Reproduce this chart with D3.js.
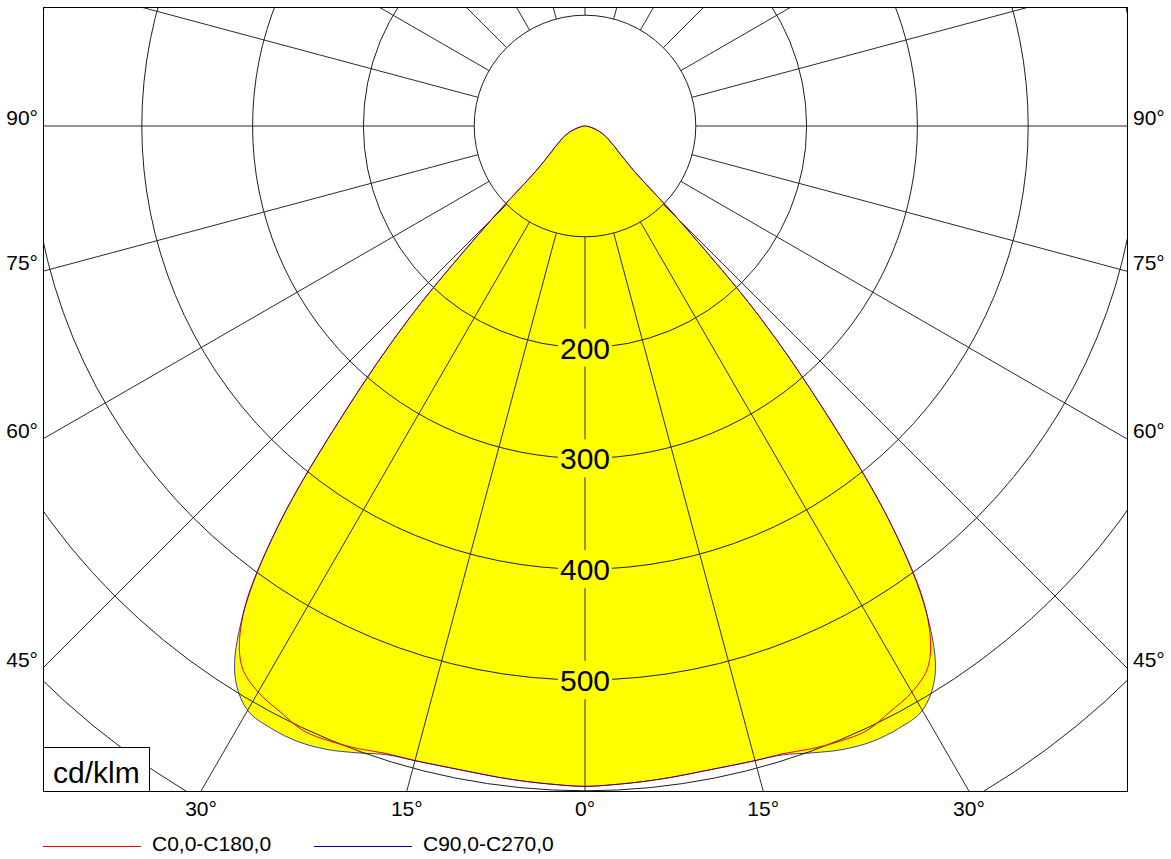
<!DOCTYPE html>
<html>
<head>
<meta charset="utf-8">
<script src="https://cdn.jsdelivr.net/npm/d3@7"></script>
<style>
  body { margin: 0; background: #fff; }
  text { font-family: "Liberation Sans", Arial, sans-serif; fill: #000; }
</style>
</head>
<body>
<svg id="graph" width="1171" height="859"></svg>
<script>
    // gamma angles (deg from nadir) and luminous intensities in cd/klm
    var gammas = [0, 2.5, 5, 7.5, 10, 12.5, 15, 17.5, 20, 22.5, 25, 27.5, 30, 32.5, 35, 37.5, 40, 42.5, 45,
                  47.5, 50, 52.5, 55, 57.5, 60, 62.5, 65, 67.5, 70, 72.5, 75, 77.5, 80, 82.5, 85, 87.5, 90];
    var c0c180 = [596, 595, 594, 593, 592, 592, 593, 594, 598, 601, 602, 596, 590, 577, 538, 455, 338, 232, 119,
                  60, 46, 38, 33, 28, 25, 22, 19, 16, 13, 10, 7.5, 5.5, 4, 2.5, 1.5, 0.5, 0];
    var c90c270 = [596, 595, 594, 593, 592, 592, 593, 595, 602, 609, 613, 613, 609, 588, 538, 455, 338, 232, 119,
                   60, 46, 38, 33, 28, 25, 22, 19, 16, 13, 10, 7.5, 5.5, 4, 2.5, 1.5, 0.5, 0];

    var rings = [100, 200, 300, 400, 500, 600, 700];
    var ringLabels = [200, 300, 400, 500];
    var spokes = [0, 15, 30, 45, 60, 75, 90, 105, 120, 135, 150, 165, 180, 195, 210, 225, 240, 255, 270, 285, 300, 315, 330, 345];
    var sideTicks = [90, 75, 60, 45];
    var bottomTicks = [-30, -15, 0, 15, 30];
    var legendNames = ["C0,0-C180,0", "C90,0-C270,0"];
    var legendColors = ["#ff0000", "#0000a0"];

    var frameL = 43, frameT = 7, frameR = 1127, frameB = 791;
    var cx = 585, cy = 126;
    var rad = Math.PI / 180;

    var r = d3.scaleLinear().domain([0, 700]).range([0, 775.6]);

    var svg = d3.select("#graph");

    svg.append("defs").append("clipPath").attr("id", "frame")
        .append("rect")
        .attr("x", frameL).attr("y", frameT)
        .attr("width", frameR - frameL).attr("height", frameB - frameT);

    var plot = svg.append("g").attr("clip-path", "url(#frame)");
    var g = plot.append("g").attr("transform", "translate(" + cx + "," + cy + ")");

    // both halves of a C-plane pair: left side from 90 down to 0, right side back up to 90
    function planePoints(values) {
        var pts = [];
        for (var i = gammas.length - 1; i >= 0; i--) pts.push({a: Math.PI + gammas[i] * rad, v: values[i]});
        for (var j = 1; j < gammas.length; j++) pts.push({a: Math.PI - gammas[j] * rad, v: values[j]});
        return pts;
    }

    var radial = d3.lineRadial()
        .angle(function(d){ return d.a; })
        .radius(function(d){ return r(d.v); })
        .curve(d3.curveCatmullRom);

    // yellow fill
    [c90c270, c0c180].forEach(function(vals){
        g.append("path")
            .attr("d", radial(planePoints(vals)) + "Z")
            .style("fill", "#ffff00")
            .style("stroke", "none");
    });

    // rings
    g.selectAll(".ring")
        .data(rings)
        .enter()
        .append("circle")
        .attr("class", "ring")
        .attr("r", function(d){ return r(d); })
        .style("fill", "none")
        .style("stroke", "#1e1e1e")
        .style("stroke-width", 1);

    // spokes start at the 100 ring
    g.selectAll(".spoke")
        .data(spokes)
        .enter()
        .append("line")
        .attr("class", "spoke")
        .attr("x1", function(d){ return r(100) * Math.sin(d * rad); })
        .attr("y1", function(d){ return r(100) * Math.cos(d * rad); })
        .attr("x2", function(d){ return 1200 * Math.sin(d * rad); })
        .attr("y2", function(d){ return 1200 * Math.cos(d * rad); })
        .style("stroke", "#2a2a2a")
        .style("stroke-width", 1);

    // curves
    g.append("path")
        .attr("d", radial(planePoints(c0c180)))
        .style("fill", "none")
        .style("stroke", legendColors[0])
        .style("stroke-width", 1);
    g.append("path")
        .attr("d", radial(planePoints(c90c270)))
        .style("fill", "none")
        .style("stroke", legendColors[1])
        .style("stroke-width", 1)
        .style("opacity", 0.75);

    // ring value labels with masked background
    var lab = g.selectAll(".ringLabel")
        .data(ringLabels)
        .enter()
        .append("g")
        .attr("class", "ringLabel");
    lab.append("rect");
    lab.append("text")
        .attr("x", 0)
        .attr("y", function(d){ return r(d) + 11; })
        .attr("text-anchor", "middle")
        .style("font-size", "30px")
        .text(function(d){ return d; });
    lab.each(function(){
        var bb = d3.select(this).select("text").node().getBBox();
        d3.select(this).select("rect")
            .attr("x", bb.x - 2).attr("y", bb.y - 3)
            .attr("width", bb.width + 4).attr("height", bb.height + 5)
            .style("fill", "#ffff00");
    });

    // frame
    svg.append("rect")
        .attr("x", frameL + 0.5).attr("y", frameT + 0.5)
        .attr("width", frameR - frameL).attr("height", frameB - frameT)
        .style("fill", "none")
        .style("stroke", "#000")
        .style("stroke-width", 1);

    // unit box
    svg.append("rect")
        .attr("x", frameL + 0.5).attr("y", 747.5)
        .attr("width", 106).attr("height", frameB - 747)
        .style("fill", "#fff")
        .style("stroke", "#000");
    svg.append("text")
        .attr("x", 53).attr("y", 783)
        .style("font-size", "30px")
        .text("cd/klm");

    // side angle labels
    var half = cx - frameL;
    sideTicks.forEach(function(t){
        var y = cy + half * Math.cos(t * rad) / Math.sin(t * rad) - 1;
        svg.append("text")
            .attr("x", frameL - 5).attr("y", y)
            .attr("text-anchor", "end")
            .style("font-size", "21px")
            .text(t + "°");
        svg.append("text")
            .attr("x", frameR + 6).attr("y", y)
            .attr("text-anchor", "start")
            .style("font-size", "21px")
            .text(t + "°");
    });

    // bottom angle labels
    svg.selectAll(".bottomTick")
        .data(bottomTicks)
        .enter()
        .append("text")
        .attr("class", "bottomTick")
        .attr("x", function(d){ return cx + (frameB - cy) * Math.tan(d * rad); })
        .attr("y", 816)
        .attr("text-anchor", "middle")
        .style("font-size", "21px")
        .text(function(d){ return Math.abs(d) + "°"; });

    // legend
    var legX = [43, 314];
    legendNames.forEach(function(name, i){
        svg.append("line")
            .attr("x1", legX[i]).attr("x2", legX[i] + 98)
            .attr("y1", 846.5).attr("y2", 846.5)
            .style("stroke", legendColors[i])
            .style("stroke-width", 1);
        svg.append("text")
            .attr("x", legX[i] + 109).attr("y", 851)
            .style("font-size", "21px")
            .text(name);
    });
</script>
</body>
</html>
